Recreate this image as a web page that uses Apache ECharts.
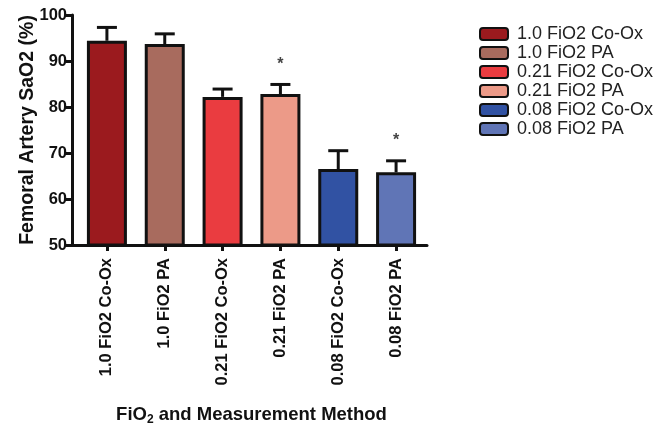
<!DOCTYPE html>
<html><head><meta charset="utf-8">
<script src="https://cdn.jsdelivr.net/npm/echarts@6/dist/echarts.min.js"></script>
<style>html,body{margin:0;padding:0;background:#fff}#c{width:663px;height:427px}</style>
</head><body><div id="c"></div>
<script>
var categories = ['1.0 FiO2 Co-Ox','1.0 FiO2 PA','0.21 FiO2 Co-Ox','0.21 FiO2 PA','0.08 FiO2 Co-Ox','0.08 FiO2 PA'];
var means = [94.4, 93.7, 82.2, 82.8, 66.5, 65.8];
var errorTops = [97.3, 95.9, 83.9, 84.9, 70.5, 68.3];
var stars = ['', '', '', '*', '', '*'];
var colors = ['#9b1a1e','#a86b5e','#ea3c40','#ec9a88','#3152a3','#6075b6'];
var yTicks = [50, 60, 70, 80, 90, 100];

var chart = echarts.init(document.getElementById('c'), null, {renderer:'canvas'});
var FONT = 'Liberation Sans, Arial, sans-serif';

var series = categories.map(function(name, i){
  var d = categories.map(function(_, j){ return j === i ? means[i] : '-'; });
  return {
    name: name, type: 'bar', xAxisIndex: 1, yAxisIndex: 1,
    data: d, barWidth: 40, barGap: '-100%',
    itemStyle: {color: colors[i], borderColor: '#111', borderWidth: 3},
    z: 2
  };
});

series.push({
  type: 'custom', xAxisIndex: 1, yAxisIndex: 1, z: 3,
  data: categories.map(function(_, i){ return [i, means[i], errorTops[i]]; }),
  renderItem: function(params, api){
    var i = api.value(0);
    var p0 = api.coord([i, api.value(1)]);
    var p1 = api.coord([i, api.value(2)]);
    var half = 10;
    var children = [
      {type:'line', shape:{x1:p0[0], y1:p0[1], x2:p1[0], y2:p1[1]}, style:{stroke:'#111', lineWidth:3}},
      {type:'line', shape:{x1:p1[0]-half, y1:p1[1], x2:p1[0]+half, y2:p1[1]}, style:{stroke:'#111', lineWidth:3}}
    ];
    if (stars[i]) {
      children.push({type:'text', style:{text:stars[i], x:p1[0], y:p1[1]-20, align:'center', verticalAlign:'middle', font:'bold 16px ' + FONT, fill:'#444'}});
    }
    return {type:'group', children: children};
  }
});

chart.setOption({
  animation: false,
  backgroundColor: '#fff',
  grid: [
    {left: 72, right: 236, top: 15, bottom: 182, outerBoundsMode: 'none', containLabel: false},
    {left: 78, right: 238, top: 15, bottom: 182, outerBoundsMode: 'none', containLabel: false}
  ],
  legend: {
    orient: 'vertical', left: 474, top: 20,
    itemWidth: 28, itemHeight: 12, itemGap: 1,
    icon: 'roundRect',
    textStyle: {fontFamily: FONT, fontSize: 18, color: '#222', padding: [0,0,0,4]},
    data: categories
  },
  xAxis: [
    {gridIndex: 0, type: 'value', min: 0, max: 1,
     axisLine: {show: true, lineStyle: {color: '#111', width: 3}},
     axisTick: {show: false}, axisLabel: {show: false}, splitLine: {show: false}},
    {gridIndex: 1, type: 'category', data: categories,
     axisLine: {show: false},
     axisTick: {show: true, alignWithLabel: true, length: 6, lineStyle: {color: '#111', width: 3}},
     axisLabel: {rotate: 90, margin: 13, fontFamily: FONT, fontSize: 16.5, fontWeight: 'bold', color: '#111'},
     name: '{a|FiO}{s|2}{a| and Measurement Method}', nameLocation: 'middle', nameGap: 159,
     nameMoveOverlap: false,
     nameTextStyle: {rich: {
       a: {fontFamily: FONT, fontSize: 18.5, fontWeight: 'bold', color: '#111'},
       s: {fontFamily: FONT, fontSize: 12, fontWeight: 'bold', color: '#111', verticalAlign: 'bottom', padding: [10,0,0,0]}
     }}}
  ],
  yAxis: [
    {gridIndex: 0, type: 'value', min: 0, max: 1, show: false},
    {gridIndex: 1, type: 'value', min: yTicks[0], max: yTicks[yTicks.length-1], interval: 10, offset: 6,
     axisLine: {show: true, lineStyle: {color: '#111', width: 3}},
     axisTick: {show: true, length: 6, lineStyle: {color: '#111', width: 3}},
     axisLabel: {fontFamily: FONT, fontSize: 16.5, fontWeight: 'bold', color: '#111', margin: 5},
     splitLine: {show: false},
     name: 'Femoral Artery SaO2 (%)', nameLocation: 'middle', nameGap: 34,
     nameMoveOverlap: false,
     nameTextStyle: {fontFamily: FONT, fontSize: 19.5, fontWeight: 'bold', color: '#111'}}
  ],
  series: series
});
</script></body></html>
